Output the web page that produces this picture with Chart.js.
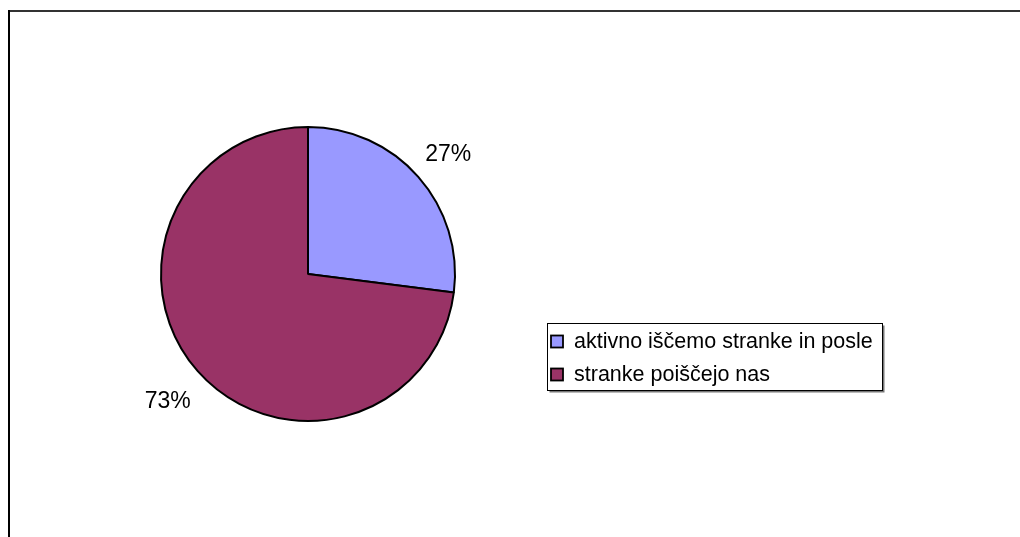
<!DOCTYPE html>
<html>
<head>
<meta charset="utf-8">
<script src="https://cdn.jsdelivr.net/npm/chart.js@4"></script>
<style>
  html, body { margin: 0; padding: 0; background: #fff; }
  #wrap { width: 1020px; height: 537px; }
</style>
</head>
<body>
<div id="wrap"><canvas id="myChart" width="1020" height="537"></canvas></div>
<script>
const categories = ['aktivno iščemo stranke in posle', 'stranke poiščejo nas'];
const shares = [27, 73];
const sliceColors = ['#9999FF', '#993366'];

// frame lines round the plot area
const framePlugin = {
  id: 'frame',
  beforeDraw(chart) {
    const ctx = chart.ctx;
    ctx.save();
    ctx.fillStyle = '#fff';
    ctx.fillRect(0, 0, chart.width, chart.height);
    ctx.strokeStyle = '#333';
    ctx.lineWidth = 2;
    ctx.beginPath();
    ctx.moveTo(8, 11);
    ctx.lineTo(chart.width, 11);
    ctx.stroke();
    ctx.strokeStyle = '#000';
    ctx.beginPath();
    ctx.moveTo(9, 10);
    ctx.lineTo(9, chart.height);
    ctx.stroke();
    ctx.restore();
  }
};

// percentage labels outside each slice
const outsideLabels = {
  id: 'outsideLabels',
  afterDatasetsDraw(chart) {
    const ctx = chart.ctx;
    const meta = chart.getDatasetMeta(0);
    ctx.save();
    ctx.font = '23px "Liberation Sans", Arial, sans-serif';
    ctx.fillStyle = '#000';
    ctx.textAlign = 'center';
    ctx.textBaseline = 'middle';
    meta.data.forEach((arc, i) => {
      const mid = (arc.startAngle + arc.endAngle) / 2;
      const d = arc.outerRadius + 40;
      ctx.fillText(shares[i] + '%', arc.x + Math.cos(mid) * d, arc.y + Math.sin(mid) * d + 4);
    });
    ctx.restore();
  }
};

// boxed legend on the right
const boxLegend = {
  id: 'boxLegend',
  afterDraw(chart) {
    const ctx = chart.ctx;
    const x = 547.5, y = 323.5, w = 335, h = 67;
    ctx.save();
    ctx.fillStyle = '#777';
    ctx.fillRect(x + 2, y + 2, w, h);
    ctx.fillStyle = '#fff';
    ctx.fillRect(x, y, w, h);
    ctx.strokeStyle = '#000';
    ctx.lineWidth = 1;
    ctx.strokeRect(x, y, w, h);
    ctx.font = '21.5px "Liberation Sans", Arial, sans-serif';
    ctx.textBaseline = 'middle';
    categories.forEach((label, i) => {
      const cy = 341.5 + i * 33;
      ctx.fillStyle = sliceColors[i];
      ctx.fillRect(551, cy - 6, 12, 12);
      ctx.lineWidth = 1.8;
      ctx.strokeStyle = '#000';
      ctx.strokeRect(551, cy - 6, 12, 12);
      ctx.fillStyle = '#000';
      ctx.fillText(label, 574, cy + 1);
    });
    ctx.restore();
  }
};

const ctx = document.getElementById('myChart').getContext('2d');
new Chart(ctx, {
  type: 'pie',
  data: {
    labels: categories,
    datasets: [{
      data: shares,
      backgroundColor: sliceColors,
      borderColor: '#000',
      borderWidth: 2
    }]
  },
  options: {
    responsive: false,
    animation: false,
    layout: {
      padding: { left: 160, right: 564, top: 126, bottom: 115 }
    },
    plugins: {
      legend: { display: false },
      tooltip: { enabled: false }
    }
  },
  plugins: [framePlugin, outsideLabels, boxLegend]
});
</script>
</body>
</html>
